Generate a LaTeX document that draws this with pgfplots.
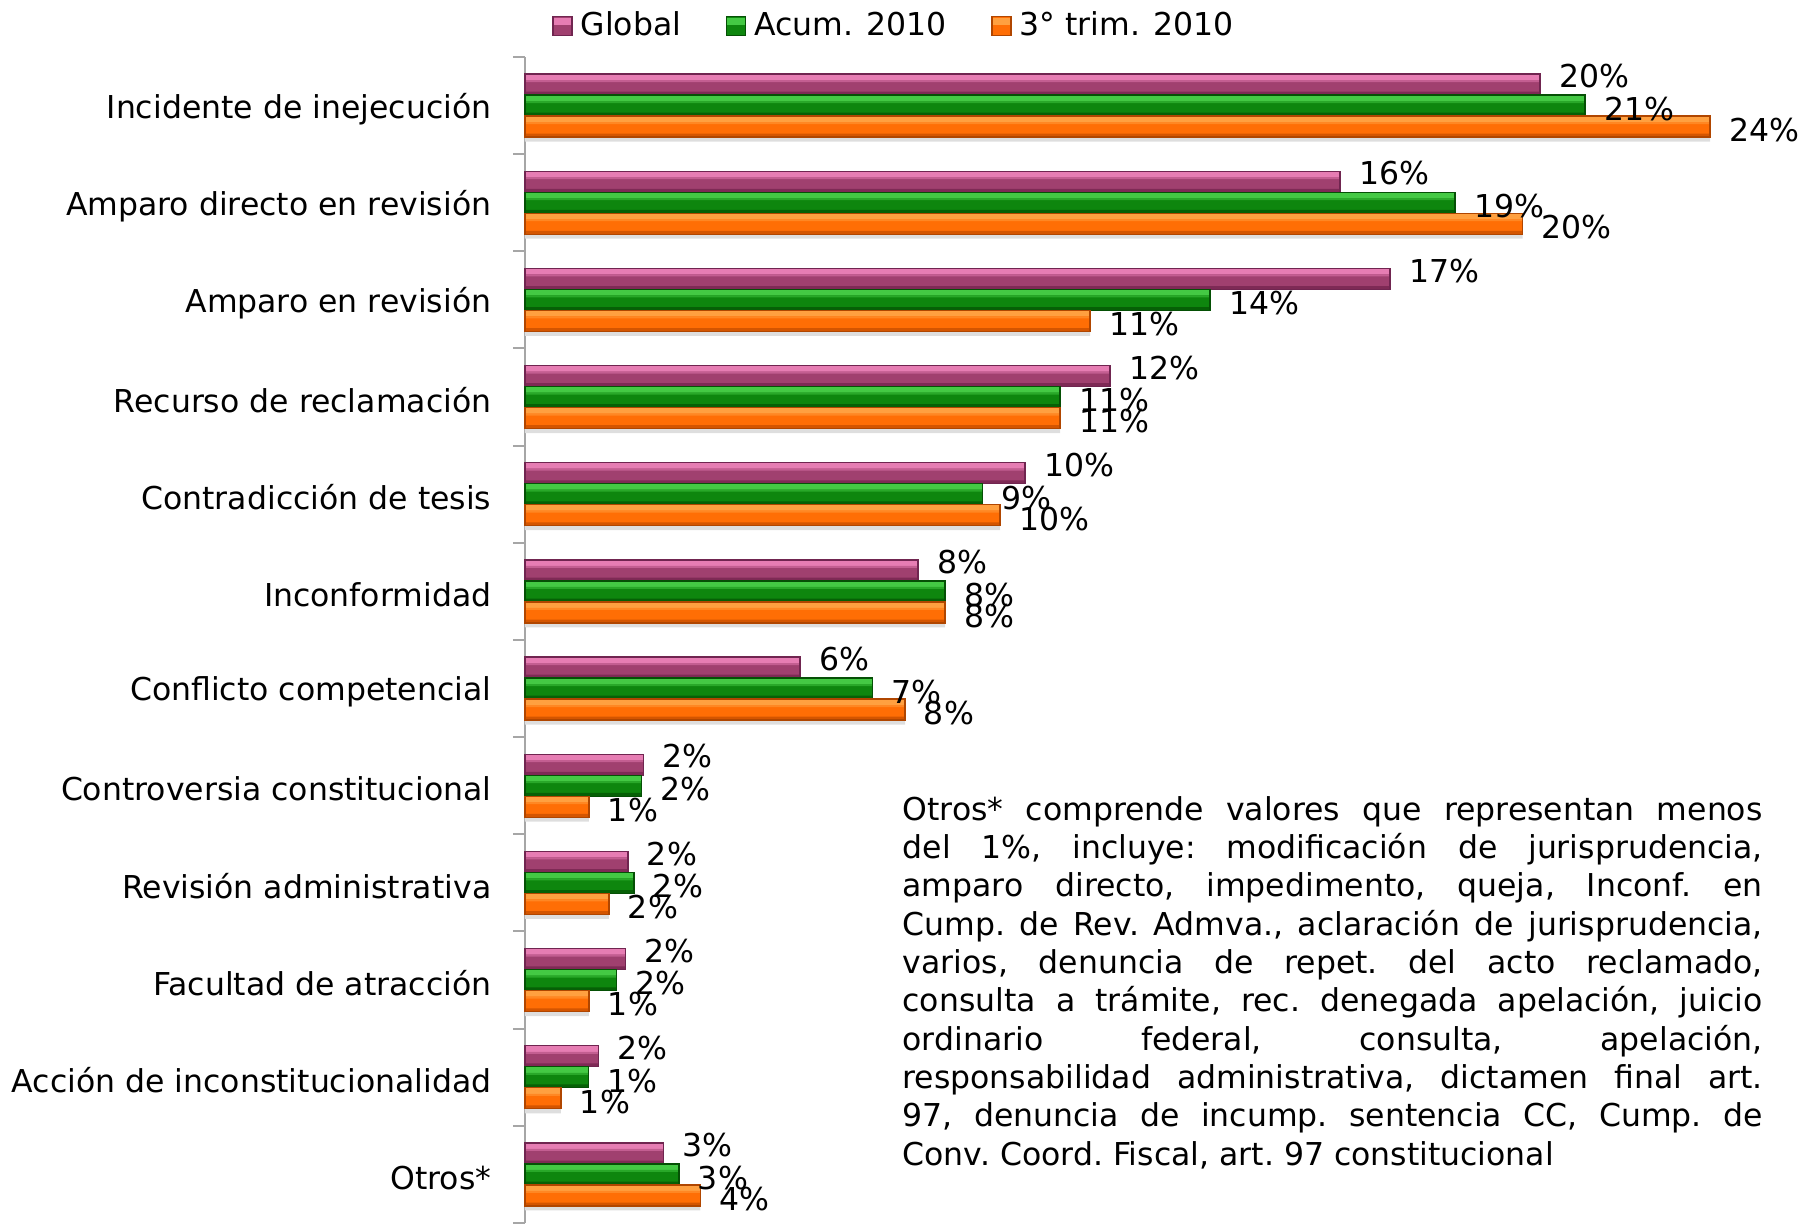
\documentclass[border=0pt]{standalone}
\usepackage{pgfplots}
\pgfplotsset{compat=1.18}
\usepackage{pgfplotstable}
\usepackage{fontspec}
\setmainfont{DejaVu Sans}
\definecolor{axisgray}{HTML}{A6A6A6}
\definecolor{pinkT}{HTML}{E67DB3}
\definecolor{pinkM}{HTML}{A0406F}
\definecolor{pinkB}{HTML}{7E2A55}
\definecolor{pinkE}{HTML}{702550}
\definecolor{greenT}{HTML}{44C944}
\definecolor{greenM}{HTML}{0E860E}
\definecolor{greenB}{HTML}{066006}
\definecolor{greenE}{HTML}{055005}
\definecolor{orT}{HTML}{FFA040}
\definecolor{orM}{HTML}{FF6E05}
\definecolor{orB}{HTML}{D45500}
\definecolor{orE}{HTML}{B04600}

\pgfplotstableread{
idx g a t lg la lt
11 20.3 21.2 23.7 20 21 24
10 16.3 18.6 19.95 16 19 20
9 17.3 13.7 11.3 17 14 11
8 11.7 10.7 10.7 12 11 11
7 10.0 9.15 9.5 10 9 10
6 7.86 8.4 8.4 8 8 8
5 5.5 6.95 7.6 6 7 8
4 2.37 2.33 1.28 2 2 1
3 2.06 2.18 1.68 2 2 2
2 2.01 1.83 1.28 2 2 1
1 1.47 1.27 0.72 2 1 1
0 2.77 3.08 3.51 3 3 4
}\datatable

\begin{document}
\begin{tikzpicture}[font=\fontsize{9.45}{11.5}\selectfont]
\path[use as bounding box] (-157.5pt,0pt) rectangle (383.1pt,366.9pt);
\begin{axis}[
  at={(0pt,0pt)}, anchor=south west,
  scale only axis, width=375pt, height=349.8pt,
  xmin=0, xmax=25, ymin=-0.5, ymax=11.5,
  enlargelimits=false, clip=false,
  axis x line=none, axis y line=left,
  y axis line style={-, draw=axisgray, line width=0.6pt},
  ytick={0,...,11},
  yticklabels={Otros*, Acción de inconstitucionalidad, Facultad de atracción, Revisión administrativa, Controversia constitucional, Conflicto competencial, Inconformidad, Contradicción de tesis, Recurso de reclamación, Amparo en revisión, Amparo directo en revisión, Incidente de inejecución},
  major tick length=0pt,
  minor ytick={-0.5,0.5,...,11.5},
  minor tick length=3.6pt,
  tick align=outside,
  ytick pos=left,
  minor tick style={draw=axisgray, line width=0.6pt},
  yticklabel style={anchor=east, inner xsep=0pt, xshift=-9.9pt, yshift=-1pt},
  xbar,
  legend style={at={(0.2976,1.0263)}, anchor=center, draw=none, fill=none,
    legend columns=3, inner sep=0pt,
    /tikz/every even column/.append style={column sep=11pt},
    nodes={inner xsep=2.4pt, inner ysep=0pt}},
  strip/.style={xbar, forget plot, draw=none},
  lbl/.style={xbar, draw=none, fill=none, forget plot, bar width=6.3pt,
    nodes near coords={\pgfplotspointmeta\%}, point meta=explicit symbolic,
    every node near coord/.append style={text=black, anchor=west, inner sep=0pt, xshift=5.5pt}},
]
% soft shadows under each group
\addplot[strip, bar shift=-10.1pt, bar width=1.4pt, fill=black!13] table[x=t, y=idx] {\datatable};
% Global
\addplot[xbar, bar shift=6.3pt, bar width=6.3pt, draw=none, fill=pinkM,
  legend image code/.code={\path[fill=pinkM, draw=pinkE, line width=0.4pt] (0pt,-2.85pt) rectangle (5.7pt,2.85pt); \fill[pinkT] (0.25pt,0.4pt) rectangle (5.45pt,2.6pt);}] table[x=g, y=idx] {\datatable};
\addlegendentry{Global}
\addplot[strip, bar shift=8.55pt, bar width=1.8pt, fill=pinkT] table[x=g, y=idx] {\datatable};
\addplot[strip, bar shift=7.35pt, bar width=0.6pt, fill=pinkT!50!pinkM] table[x=g, y=idx] {\datatable};
\addplot[strip, bar shift=3.65pt, bar width=1.0pt, fill=pinkB] table[x=g, y=idx] {\datatable};
\addplot[strip, bar shift=6.3pt, bar width=6.3pt, fill=none, draw=pinkE, line width=0.4pt] table[x=g, y=idx] {\datatable};
% Acum
\addplot[xbar, bar shift=0pt, bar width=6.3pt, draw=none, fill=greenM,
  legend image code/.code={\path[fill=greenM, draw=greenE, line width=0.4pt] (0pt,-2.85pt) rectangle (5.7pt,2.85pt); \fill[greenT] (0.25pt,0.4pt) rectangle (5.45pt,2.6pt);}] table[x=a, y=idx] {\datatable};
\addlegendentry{Acum. 2010}
\addplot[strip, bar shift=2.25pt, bar width=1.8pt, fill=greenT] table[x=a, y=idx] {\datatable};
\addplot[strip, bar shift=1.05pt, bar width=0.6pt, fill=greenT!50!greenM] table[x=a, y=idx] {\datatable};
\addplot[strip, bar shift=-2.65pt, bar width=1.0pt, fill=greenB] table[x=a, y=idx] {\datatable};
\addplot[strip, bar shift=0pt, bar width=6.3pt, fill=none, draw=greenE, line width=0.4pt] table[x=a, y=idx] {\datatable};
% 3 trim
\addplot[xbar, bar shift=-6.3pt, bar width=6.3pt, draw=none, fill=orM,
  legend image code/.code={\path[fill=orM, draw=orE, line width=0.4pt] (0pt,-2.85pt) rectangle (5.7pt,2.85pt); \fill[orT] (0.25pt,0.4pt) rectangle (5.45pt,2.6pt);}] table[x=t, y=idx] {\datatable};
\addlegendentry{3° trim. 2010}
\addplot[strip, bar shift=-4.05pt, bar width=1.8pt, fill=orT] table[x=t, y=idx] {\datatable};
\addplot[strip, bar shift=-5.25pt, bar width=0.6pt, fill=orT!50!orM] table[x=t, y=idx] {\datatable};
\addplot[strip, bar shift=-8.95pt, bar width=1.0pt, fill=orB] table[x=t, y=idx] {\datatable};
\addplot[strip, bar shift=-6.3pt, bar width=6.3pt, fill=none, draw=orE, line width=0.4pt] table[x=t, y=idx] {\datatable};
% labels
\addplot[lbl, bar shift=6.3pt, every node near coord/.append style={yshift=2.5pt}] table[x=g, y=idx, meta=lg] {\datatable};
\addplot[lbl, bar shift=0pt, every node near coord/.append style={yshift=-1pt}] table[x=a, y=idx, meta=la] {\datatable};
\addplot[lbl, bar shift=-6.3pt, every node near coord/.append style={yshift=-1pt}] table[x=t, y=idx, meta=lt] {\datatable};
\end{axis}
\node[anchor=north west, inner sep=0pt, align=left, font=\fontsize{9.45}{11.5}\selectfont\frenchspacing] at (113.1pt,128.2pt) {%
\makebox[258pt][s]{Otros* comprende valores que representan menos}\\
\makebox[258pt][s]{del 1\%, incluye: modificación de jurisprudencia,}\\
\makebox[258pt][s]{amparo directo, impedimento, queja, Inconf. en}\\
\makebox[258pt][s]{Cump. de Rev. Admva., aclaración de jurisprudencia,}\\
\makebox[258pt][s]{varios, denuncia de repet. del acto reclamado,}\\
\makebox[258pt][s]{consulta a trámite, rec. denegada apelación, juicio}\\
\makebox[258pt][s]{ordinario federal, consulta, apelación,}\\
\makebox[258pt][s]{responsabilidad administrativa, dictamen final art.}\\
\makebox[258pt][s]{97, denuncia de incump. sentencia CC, Cump. de}\\
Conv. Coord. Fiscal, art. 97 constitucional};
\end{tikzpicture}
\end{document}
